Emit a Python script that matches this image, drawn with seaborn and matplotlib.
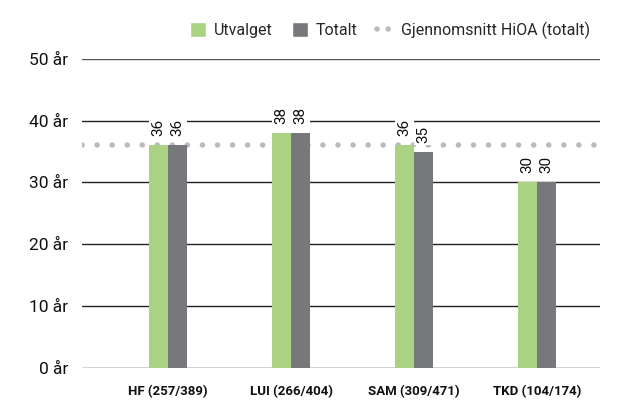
import pandas as pd
import matplotlib
matplotlib.use("Agg")
import matplotlib.pyplot as plt
import seaborn as sns
from matplotlib.lines import Line2D
from matplotlib.patches import Patch

categories = ["HF (257/389)", "LUI (266/404)", "SAM (309/471)", "TKD (104/174)"]
utvalget = [36, 38, 36, 30]
totalt = [36, 38, 35, 30]
hioa_avg = 36
yticks = [0, 10, 20, 30, 40, 50]

green = "#abd283"
grey = "#77787b"
dotgrey = "#b9bcbf"

df = pd.DataFrame({
    "kat": categories * 2,
    "serie": ["Utvalget"] * 4 + ["Totalt"] * 4,
    "alder": utvalget + totalt,
})

sns.set_style("white")
plt.rcParams["font.family"] = ["Roboto", "DejaVu Sans"]

fig = plt.figure(figsize=(6.26, 4.01), dpi=100)
ax = fig.add_axes([0.131, 0.0823, 0.827, 0.771])

# gridlines
for y in yticks:
    ax.axhline(y, color="#555555" if y == 50 else "#222222", lw=1, zorder=0)

sns.barplot(data=df, x="kat", y="alder", hue="serie", palette=[green, grey],
            width=0.31, gap=0, saturation=1, legend=False, linewidth=0,
            ax=ax, zorder=2)

ax.axhline(hioa_avg, color=dotgrey, lw=4, ls=(0, (0.01, 2.7)),
           dash_capstyle="round", zorder=1)

# value labels, rotated, with white box over the gridlines
for cont in ax.containers:
    for rect in cont:
        h = rect.get_height()
        ax.annotate(f"{h:.0f}", (rect.get_x() + rect.get_width() / 2, h),
                    xytext=(0, 6.5), textcoords="offset points",
                    rotation=90, ha="center", va="bottom", fontsize=11,
                    color="#111111", zorder=1.5,
                    bbox=dict(facecolor="white", edgecolor="none", pad=1.5))

ax.set_ylim(0, 50)
ax.set_xlim(-0.7, 3.51)
ax.set_yticks(yticks)
ax.set_yticklabels([f"{v} år" for v in yticks], fontsize=12.5, color="#111111")
ax.set_xticks(range(len(categories)))
ax.set_xticklabels(categories, fontsize=9.5, fontweight="bold", color="#111111")
ax.tick_params(axis="y", length=0, pad=10)
ax.tick_params(axis="x", length=0, pad=12)
ax.set_xlabel("")
ax.set_ylabel("")
sns.despine(ax=ax, left=True, bottom=True, top=True, right=True)

handles = [
    Patch(facecolor=green, label="Utvalget"),
    Patch(facecolor=grey, label="Totalt"),
    Line2D([0], [0], color=dotgrey, lw=4, ls=(0, (0.01, 2.0)),
           dash_capstyle="round", label="Gjennomsnitt HiOA (totalt)"),
]
fig.legend(handles=handles, loc="center right", bbox_to_anchor=(0.965, 0.925),
           ncol=3, frameon=False, fontsize=11.5, handlelength=1.0,
           handleheight=1.0, handletextpad=0.5, columnspacing=1.2)

fig.savefig("out.png", dpi=100)
